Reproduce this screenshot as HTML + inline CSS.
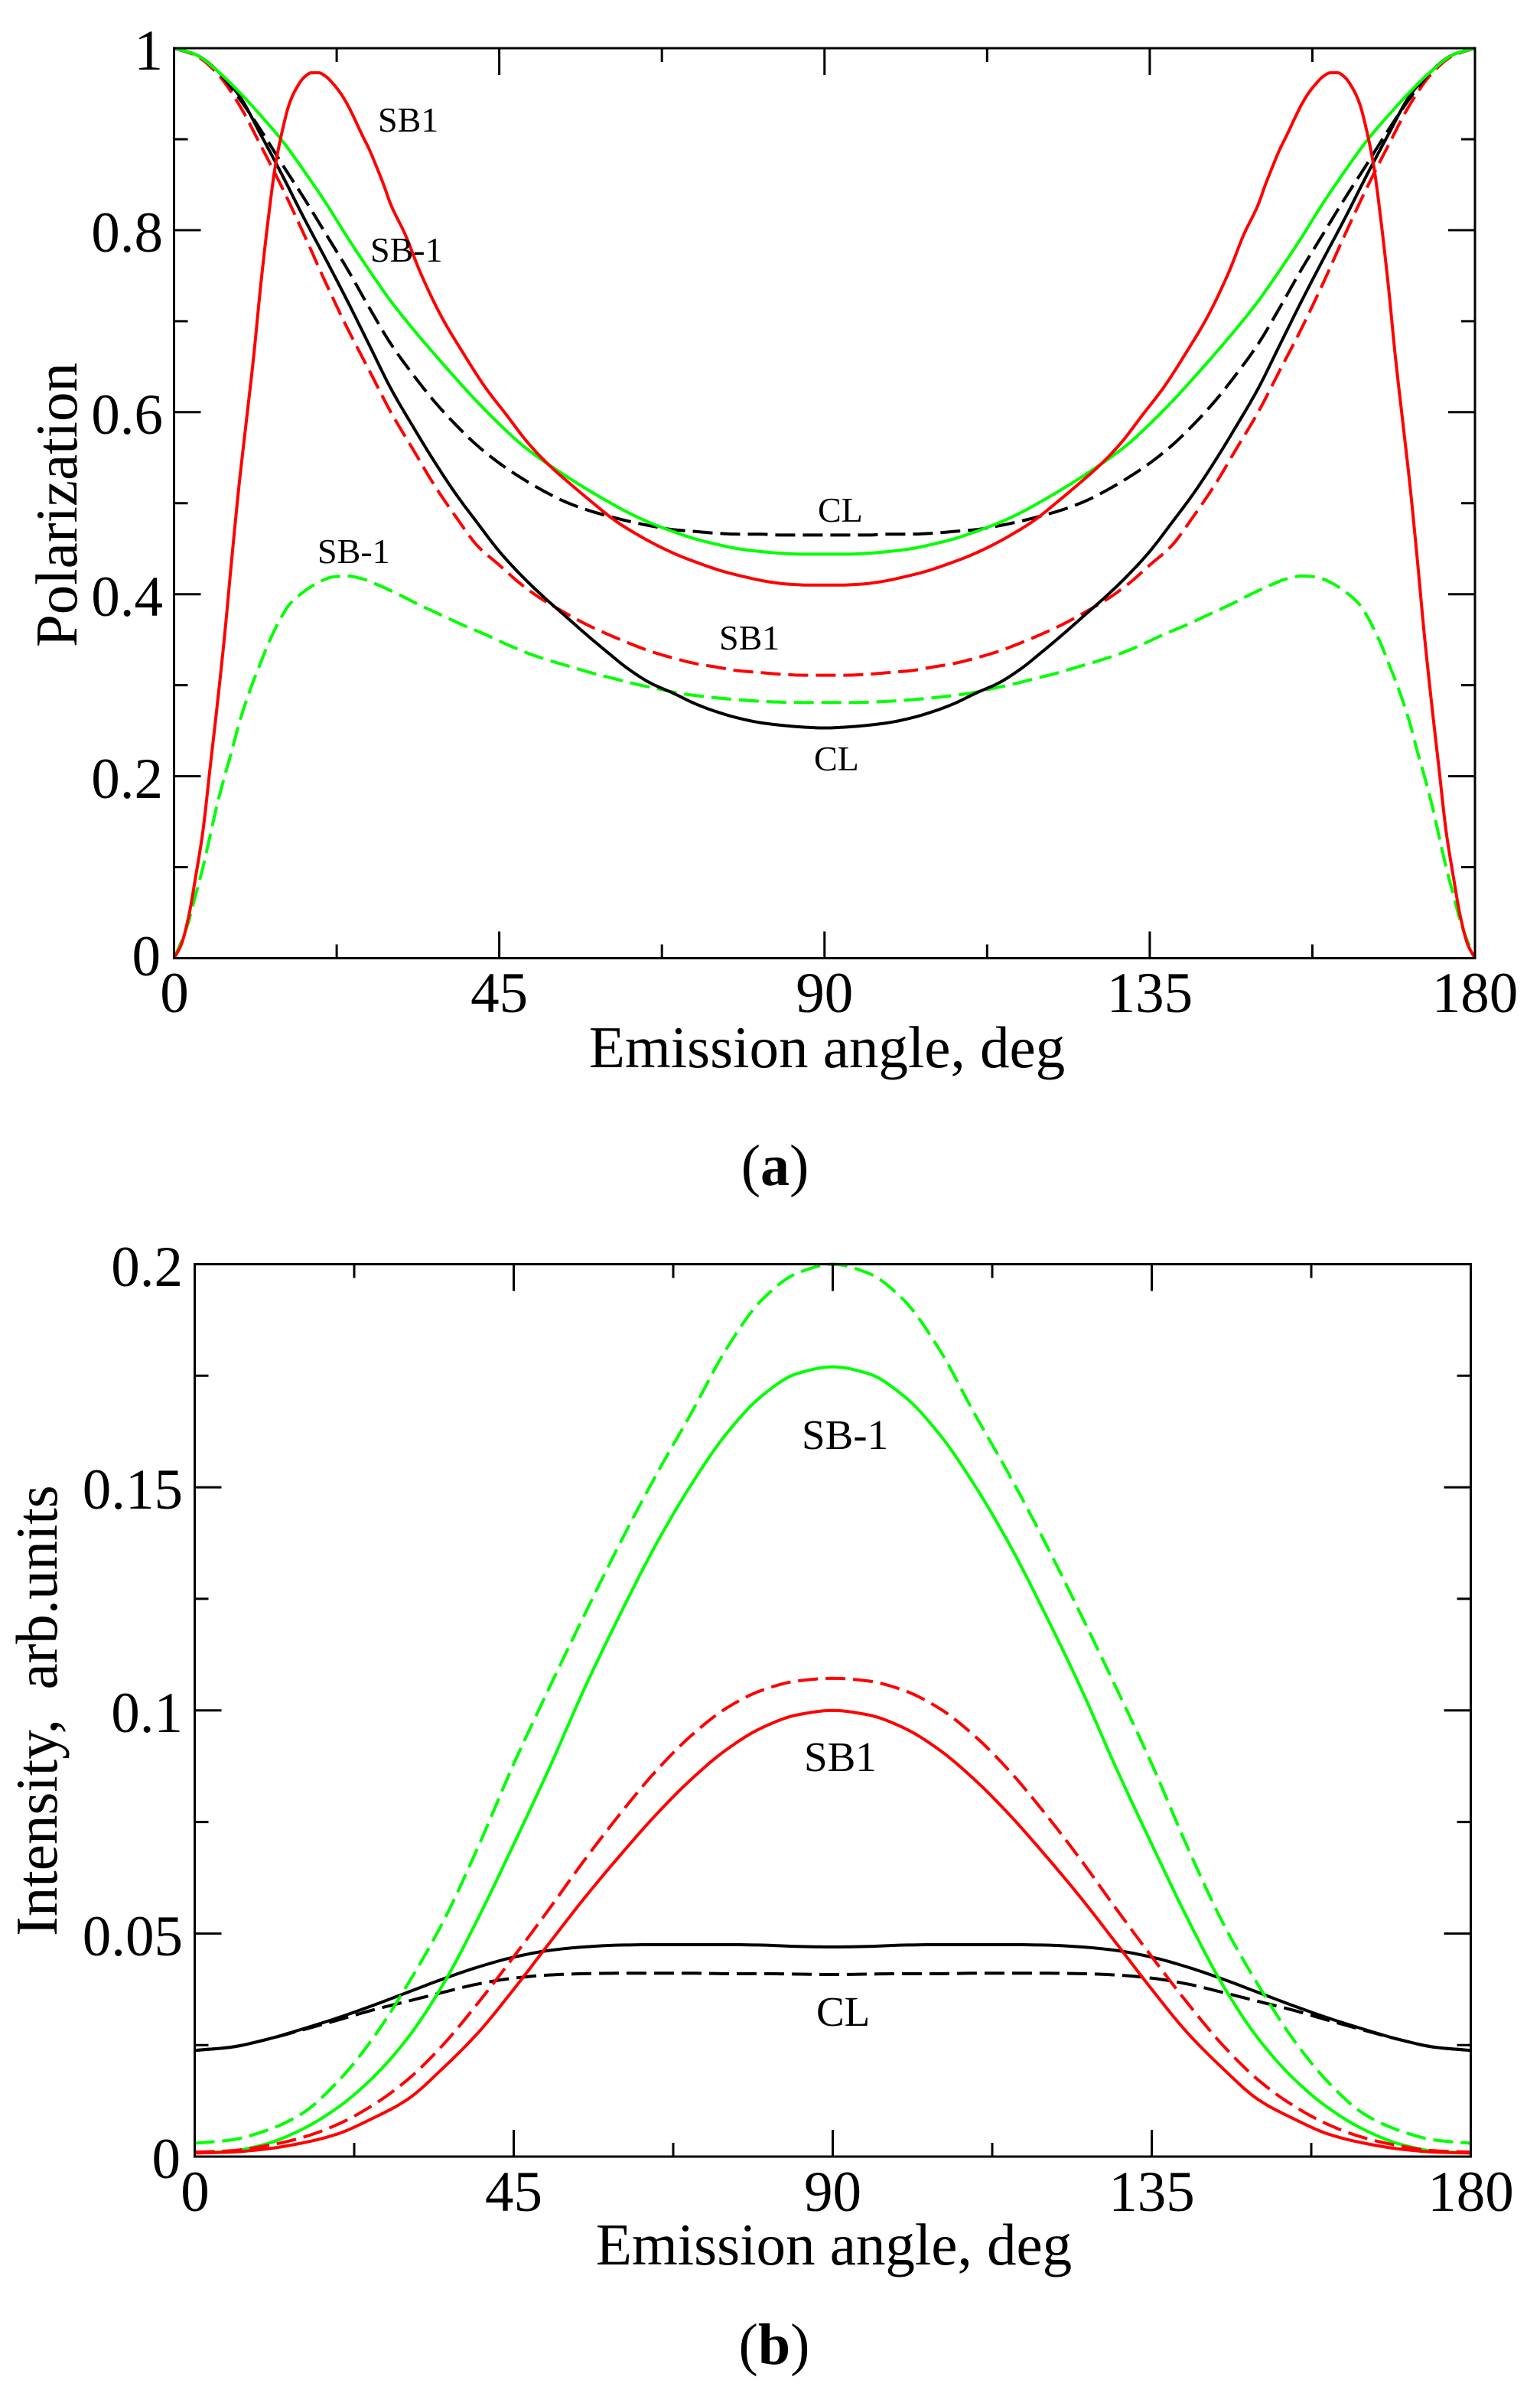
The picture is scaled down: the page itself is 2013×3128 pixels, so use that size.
<!DOCTYPE html>
<html>
<head>
<meta charset="utf-8">
<style>
html,body{margin:0;padding:0;background:#fff;}
svg{display:block;}
text{font-family:"Liberation Serif","Times New Roman",serif;fill:#000;}
.c{fill:none;stroke-width:4;stroke-linejoin:round;stroke-linecap:butt;}
.d{stroke-dasharray:26 10;}
</style>
</head>
<body>
<svg width="2013" height="3128" viewBox="0 0 2013 3128" xmlns="http://www.w3.org/2000/svg">
<rect x="0" y="0" width="2013" height="3128" fill="#fff"/>

<!-- ================= PLOT A ================= -->
<g transform="matrix(9.4472,0,0,-1189.5,227.5,1252.5)">
<polyline class="c d" vector-effect="non-scaling-stroke" stroke="#00ff00" points="0,0 1,.018 2,.04 3,.07 4,.1 5,.135 6,.17 7,.2 8,.228 9,.258 10,.283 11,.305 12,.325 13,.345 14,.362 15,.377 16,.389 18,.403 20,.413 22,.419 24,.42 26,.417 28,.411 31,.4 34,.388 37,.377 40,.366 43,.356 46,.345 49,.335 52,.327 55,.32 58,.313 61,.307 64,.301 67,.296 70,.291 74,.287 78,.284 82,.282 86,.281 90,.281 94,.281 98,.282 102,.284 106,.287 110,.291 113,.296 116,.301 119,.307 122,.313 125,.32 128,.327 131,.335 134,.345 137,.356 140,.366 143,.377 146,.388 149,.4 152,.411 154,.417 156,.42 158,.419 160,.413 162,.403 164,.389 165,.377 166,.362 167,.345 168,.325 169,.305 170,.283 171,.258 172,.228 173,.2 174,.17 175,.135 176,.1 177,.07 178,.04 179,.018 180,0"/>
<polyline class="c d" vector-effect="non-scaling-stroke" stroke="#ff0000" points="0,1 3,.992 6,.972 9,.938 12,.893 15,.846 18,.795 21,.742 24,.692 27,.646 30,.6 33,.56 36,.52 39,.485 42,.453 45,.432 48,.411 51,.394 54,.38 57,.367 60,.356 63,.346 66,.337 69,.33 72,.324 75,.32 78,.316 81,.314 84,.312 87,.311 90,.311 93,.311 96,.312 99,.314 102,.316 105,.32 108,.324 111,.33 114,.337 117,.346 120,.356 123,.367 126,.38 129,.394 132,.411 135,.432 138,.453 141,.485 144,.52 147,.56 150,.6 153,.646 156,.692 159,.742 162,.795 165,.846 168,.893 171,.938 174,.972 177,.992 180,1"/>
<polyline class="c d" vector-effect="non-scaling-stroke" stroke="#000" points="0,1 3,.993 6,.975 9,.945 12,.91 15,.872 18,.835 21,.796 24,.757 27,.715 30,.675 33,.642 36,.612 39,.586 42,.563 45,.544 48,.528 51,.514 54,.502 57,.493 60,.486 63,.48 66,.475 69,.471 72,.469 75,.467 78,.466 81,.466 84,.465 87,.465 90,.465 93,.465 96,.465 99,.466 102,.466 105,.467 108,.469 111,.471 114,.475 117,.48 120,.486 123,.493 126,.502 129,.514 132,.528 135,.544 138,.563 141,.586 144,.612 147,.642 150,.675 153,.715 156,.757 159,.796 162,.835 165,.872 168,.91 171,.945 174,.975 177,.993 180,1"/>
<polyline class="c" vector-effect="non-scaling-stroke" stroke="#000" points="0,1 3,.993 6,.975 9,.948 12,.905 15,.86 18,.813 21,.768 24,.722 27,.674 30,.626 33,.585 36,.546 39,.51 42,.478 45,.447 48,.421 51,.398 54,.377 57,.356 60,.336 63,.317 66,.302 69,.2915 72,.28 75,.271 78,.264 81,.259 84,.256 87,.254 90,.253 93,.254 96,.256 99,.259 102,.264 105,.271 108,.28 111,.2915 114,.302 117,.317 120,.336 123,.356 126,.377 129,.398 132,.421 135,.447 138,.478 141,.51 144,.546 147,.585 150,.626 153,.674 156,.722 159,.768 162,.813 165,.86 168,.905 171,.948 174,.975 177,.993 180,1"/>
<polyline class="c" vector-effect="non-scaling-stroke" stroke="#00ff00" points="0,1 3,.993 6,.975 9,.952 12,.926 15,.898 18,.865 21,.83 24,.792 27,.756 30,.722 33,.692 36,.664 39,.637 42,.611 45,.587 48,.565 51,.547 54,.531 57,.516 60,.502 63,.489 66,.478 69,.469 72,.461 75,.455 78,.45 81,.447 84,.445 87,.444 90,.444 93,.444 96,.445 99,.447 102,.45 105,.455 108,.461 111,.469 114,.478 117,.489 120,.502 123,.516 126,.531 129,.547 132,.565 135,.587 138,.611 141,.637 144,.664 147,.692 150,.722 153,.756 156,.792 159,.83 162,.865 165,.898 168,.926 171,.952 174,.975 177,.993 180,1"/>
<polyline class="c" vector-effect="non-scaling-stroke" stroke="#ff0000" points="0,0 1,.015 2,.045 3,.09 4,.14 5,.21 6,.28 7,.355 8,.44 9,.52 10,.59 11,.66 12,.74 13,.81 14,.87 15,.91 16,.94 17,.957 18,.968 19,.973 20,.973 21,.969 22,.961 23,.951 24,.938 25,.922 26,.905 27,.889 28,.87 29,.85 30,.828 32,.795 34,.755 37,.705 40,.665 43,.628 46,.597 49,.566 52,.541 55,.52 58,.5 61,.481 64,.466 67,.453 70,.442 73,.433 76,.425 79,.419 82,.414 85,.411 88,.41 90,.41 92,.41 95,.411 98,.414 101,.419 104,.425 107,.433 110,.442 113,.453 116,.466 119,.481 122,.5 125,.52 128,.541 131,.566 134,.597 137,.628 140,.665 143,.705 146,.755 148,.795 150,.828 151,.85 152,.87 153,.889 154,.905 155,.922 156,.938 157,.951 158,.961 159,.969 160,.973 161,.973 162,.968 163,.957 164,.94 165,.91 166,.87 167,.81 168,.74 169,.66 170,.59 171,.52 172,.44 173,.355 174,.28 175,.21 176,.14 177,.09 178,.045 179,.015 180,0"/>
</g>

<rect x="227.5" y="63" width="1700.5" height="1189.5" fill="none" stroke="#000" stroke-width="3"/>
<path fill="none" stroke="#000" stroke-width="3" d="
M652.6,1252.5V1217.5 M1077.75,1252.5V1217.5 M1502.9,1252.5V1217.5
M652.6,63V98 M1077.75,63V98 M1502.9,63V98
M440.1,1252.5V1234.5 M865.2,1252.5V1234.5 M1290.3,1252.5V1234.5 M1715.4,1252.5V1234.5
M440.1,63V81 M865.2,63V81 M1290.3,63V81 M1715.4,63V81
M227.5,1014.6H262.5 M227.5,776.7H262.5 M227.5,538.8H262.5 M227.5,300.9H262.5
M1928,1014.6H1893 M1928,776.7H1893 M1928,538.8H1893 M1928,300.9H1893
M227.5,1133.55H245.5 M227.5,895.65H245.5 M227.5,657.75H245.5 M227.5,419.85H245.5 M227.5,181.95H245.5
M1928,1133.55H1910 M1928,895.65H1910 M1928,657.75H1910 M1928,419.85H1910 M1928,181.95H1910"/>

<g font-size="75" text-anchor="end">
<text x="213" y="91">1</text>
<text x="213" y="329">0.8</text>
<text x="213" y="567">0.6</text>
<text x="213" y="805">0.4</text>
<text x="213" y="1043">0.2</text>
<text x="210" y="1275">0</text>
</g>
<g font-size="75" text-anchor="middle">
<text x="228" y="1323">0</text>
<text x="652.6" y="1323">45</text>
<text x="1077.75" y="1323">90</text>
<text x="1502.9" y="1323">135</text>
<text x="1928" y="1323">180</text>
</g>
<text x="1081" y="1395" font-size="77" text-anchor="middle">Emission angle, deg</text>
<text transform="translate(100,660) rotate(-90)" font-size="77" text-anchor="middle">Polarization</text>

<g font-size="46">
<text x="494" y="172">SB1</text>
<text x="484" y="342">SB-1</text>
<text x="415" y="736">SB-1</text>
<text x="1069" y="682">CL</text>
<text x="940" y="849">SB1</text>
<text x="1064" y="1007">CL</text>
</g>

<text x="1013" y="1549" font-size="76" text-anchor="middle">(<tspan font-weight="bold">a</tspan>)</text>

<!-- ================= PLOT B ================= -->
<g transform="matrix(9.2667,0,0,-5832.5,254.5,2819)">
<polyline class="c d" vector-effect="non-scaling-stroke" stroke="#000" points="0,.0238 5,.0245 10,.0262 15,.0283 20,.0305 25,.0328 30,.0348 35,.0368 40,.0387 45,.04 50,.0407 55,.041 60,.0411 65,.0411 70,.0411 75,.041 80,.041 85,.0409 90,.0408 95,.0409 100,.041 105,.041 110,.0411 115,.0411 120,.0411 125,.041 130,.0407 135,.04 140,.0387 145,.0368 150,.0348 155,.0328 160,.0305 165,.0283 170,.0262 175,.0245 180,.0238"/>
<polyline class="c" vector-effect="non-scaling-stroke" stroke="#000" points="0,.0238 5,.0245 10,.0262 15,.0285 20,.031 25,.0338 30,.0368 35,.0398 40,.0425 45,.0447 50,.0462 55,.047 60,.0474 65,.0475 70,.0475 75,.0475 80,.0474 85,.0471 90,.047 95,.0471 100,.0474 105,.0475 110,.0475 115,.0475 120,.0474 125,.047 130,.0462 135,.0447 140,.0425 145,.0398 150,.0368 155,.0338 160,.031 165,.0285 170,.0262 175,.0245 180,.0238"/>
<polyline class="c d" vector-effect="non-scaling-stroke" stroke="#00ff00" points="0,.003 5,.0037 10,.0058 15,.0095 20,.0165 25,.0262 30,.0385 35,.0525 40,.0695 45,.088 50,.105 55,.1215 60,.1375 65,.1525 70,.1665 75,.181 80,.192 85,.198 90,.2 95,.198 100,.192 105,.181 110,.1665 115,.1525 120,.1375 125,.1215 130,.105 135,.088 140,.0695 145,.0525 150,.0385 155,.0262 160,.0165 165,.0095 170,.0058 175,.0037 180,.003"/>
<polyline class="c" vector-effect="non-scaling-stroke" stroke="#00ff00" points="0,.0008 5,.0012 10,.0028 15,.006 20,.0108 25,.0175 30,.0265 35,.0385 40,.0535 45,.07 50,.087 55,.105 60,.1215 65,.137 70,.1505 75,.162 80,.1705 85,.1755 90,.177 95,.1755 100,.1705 105,.162 110,.1505 115,.137 120,.1215 125,.105 130,.087 135,.07 140,.0535 145,.0385 150,.0265 155,.0175 160,.0108 165,.006 170,.0028 175,.0012 180,.0008"/>
<polyline class="c d" vector-effect="non-scaling-stroke" stroke="#ff0000" points="0,.001 5,.0013 10,.0024 15,.0042 20,.0071 25,.0114 30,.0172 35,.025 40,.0345 45,.0448 50,.0555 55,.0665 60,.0768 65,.0863 70,.0943 75,.1005 80,.1045 85,.1066 90,.1072 95,.1066 100,.1045 105,.1005 110,.0943 115,.0863 120,.0768 125,.0665 130,.0555 135,.0448 140,.0345 145,.025 150,.0172 155,.0114 160,.0071 165,.0042 170,.0024 175,.0013 180,.001"/>
<polyline class="c" vector-effect="non-scaling-stroke" stroke="#ff0000" points="0,.0008 5,.001 10,.0017 15,.003 20,.005 25,.0085 30,.0128 35,.0198 40,.0278 45,.0375 50,.0478 55,.058 60,.0675 65,.0765 70,.0845 75,.0912 80,.0961 85,.099 90,.1 95,.099 100,.0961 105,.0912 110,.0845 115,.0765 120,.0675 125,.058 130,.0478 135,.0375 140,.0278 145,.0198 150,.0128 155,.0085 160,.005 165,.003 170,.0017 175,.001 180,.0008"/>
</g>

<rect x="254.5" y="1652.5" width="1668" height="1166.5" fill="none" stroke="#000" stroke-width="3"/>
<path fill="none" stroke="#000" stroke-width="3" d="
M671.5,2819V2784 M1088.5,2819V2784 M1505.5,2819V2784
M671.5,1652.5V1687.5 M1088.5,1652.5V1687.5 M1505.5,1652.5V1687.5
M463,2819V2801 M880,2819V2801 M1297,2819V2801 M1714,2819V2801
M463,1652.5V1670.5 M880,1652.5V1670.5 M1297,1652.5V1670.5 M1714,1652.5V1670.5
M254.5,2527.4H289.5 M254.5,2235.75H289.5 M254.5,1944.1H289.5
M1922.5,2527.4H1887.5 M1922.5,2235.75H1887.5 M1922.5,1944.1H1887.5
M254.5,2673.2H272.5 M254.5,2381.6H272.5 M254.5,2089.9H272.5 M254.5,1798.3H272.5
M1922.5,2673.2H1904.5 M1922.5,2381.6H1904.5 M1922.5,2089.9H1904.5 M1922.5,1798.3H1904.5"/>

<g font-size="75" text-anchor="end">
<text x="239" y="1681">0.2</text>
<text x="239" y="1972">0.15</text>
<text x="239" y="2264">0.1</text>
<text x="239" y="2556">0.05</text>
<text x="236" y="2847">0</text>
</g>
<g font-size="75" text-anchor="middle">
<text x="255" y="2890">0</text>
<text x="671.5" y="2890">45</text>
<text x="1088.5" y="2890">90</text>
<text x="1505.5" y="2890">135</text>
<text x="1922.5" y="2890">180</text>
</g>
<text x="1090" y="2960" font-size="77" text-anchor="middle">Emission angle, deg</text>
<text transform="translate(74,2236) rotate(-90)" font-size="77" text-anchor="middle" style="white-space:pre" xml:space="preserve">Intensity,  arb.units</text>

<g font-size="55">
<text x="1048" y="1894">SB-1</text>
<text x="1051" y="2315">SB1</text>
<text x="1067" y="2648">CL</text>
</g>

<text x="1012" y="3090" font-size="76" text-anchor="middle">(<tspan font-weight="bold">b</tspan>)</text>
</svg>
<script>
(function(){
  try{
    var pls=document.querySelectorAll('polyline.c');
    for(var k=0;k<pls.length;k++){
      var pl=pls[k];
      var raw=pl.getAttribute('points').trim().split(/\s+/);
      var xs=[],ys=[];
      for(var i=0;i<raw.length;i++){var p=raw[i].split(',');xs.push(parseFloat(p[0]));ys.push(parseFloat(p[1]));}
      var n=xs.length; if(n<3) continue;
      var d=[],h=[];
      for(i=0;i<n-1;i++){h.push(xs[i+1]-xs[i]);d.push((ys[i+1]-ys[i])/h[i]);}
      var m=new Array(n);
      m[0]=d[0]; m[n-1]=d[n-2];
      for(i=1;i<n-1;i++){
        if(d[i-1]*d[i]<=0){m[i]=0;}
        else{var h0=h[i-1],h1=h[i];m[i]=3*(h0+h1)/((2*h1+h0)/d[i-1]+(h1+2*h0)/d[i]);}
      }
      var out=[];
      for(i=0;i<n-1;i++){
        var steps=8;
        for(var s=0;s<steps;s++){
          var t=s/steps,t2=t*t,t3=t2*t;
          var h00=2*t3-3*t2+1,h10=t3-2*t2+t,h01=-2*t3+3*t2,h11=t3-t2;
          var x=xs[i]+t*h[i];
          var y=h00*ys[i]+h10*h[i]*m[i]+h01*ys[i+1]+h11*h[i]*m[i+1];
          out.push(x.toFixed(4)+','+y.toFixed(6));
        }
      }
      out.push(xs[n-1]+','+ys[n-1]);
      pl.setAttribute('points',out.join(' '));
    }
  }catch(e){}
})();
</script>
</body>
</html>
